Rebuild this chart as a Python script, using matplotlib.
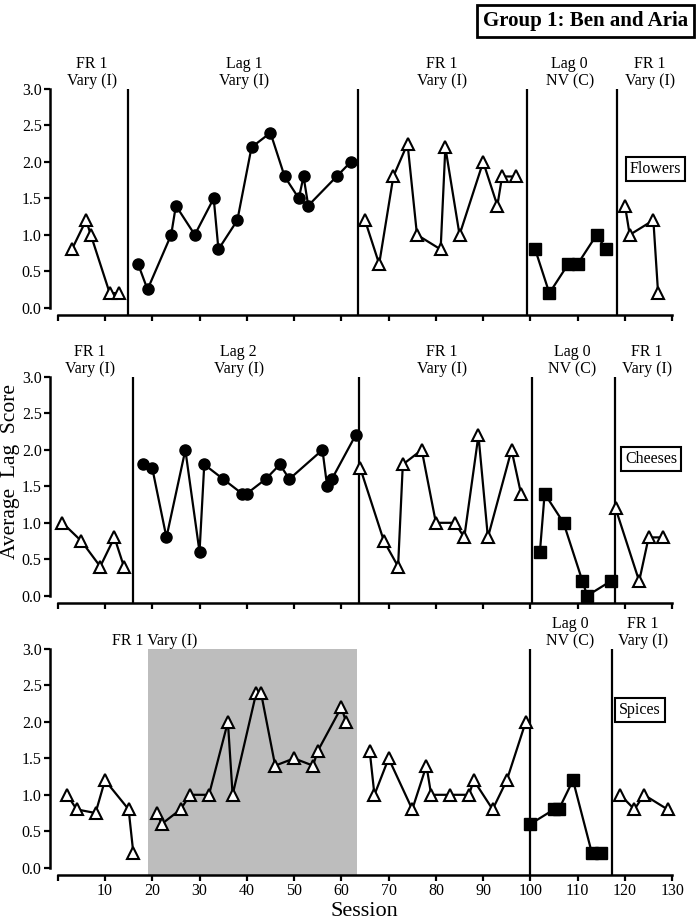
import matplotlib
matplotlib.use('Agg')
import matplotlib.pyplot as plt
import matplotlib.transforms as mtransforms

plt.rcParams['font.family'] = ['Liberation Serif', 'DejaVu Serif']

# ---- Flowers (top panel) ----
fl_fr1a_x = [3, 6, 7, 11, 13]
fl_fr1a_y = [0.8, 1.2, 1.0, 0.2, 0.2]
fl_lag1_x = [17, 19, 24, 25, 29, 33, 34, 38, 41, 45, 48, 51, 52, 53, 59, 62]
fl_lag1_y = [0.6, 0.25, 1.0, 1.4, 1.0, 1.5, 0.8, 1.2, 2.2, 2.4, 1.8, 1.5, 1.8, 1.4, 1.8, 2.0]
fl_fr1b_x = [65, 68, 71, 74, 76, 81, 82, 85, 90, 93, 94, 97]
fl_fr1b_y = [1.2, 0.6, 1.8, 2.25, 1.0, 0.8, 2.2, 1.0, 2.0, 1.4, 1.8, 1.8]
fl_lag0_x = [101, 104, 108, 110, 114, 116]
fl_lag0_y = [0.8, 0.2, 0.6, 0.6, 1.0, 0.8]
fl_fr1c_x = [120, 121, 126, 127]
fl_fr1c_y = [1.4, 1.0, 1.2, 0.2]
fl_phase_changes = [14.9, 63.6, 99.3, 118.4]

# ---- Cheeses (middle panel) ----
ch_fr1a_x = [1, 5, 9, 12, 14]
ch_fr1a_y = [1.0, 0.75, 0.4, 0.8, 0.4]
ch_lag2_x = [18, 20, 23, 27, 30, 31, 35, 39, 40, 44, 47, 49, 56, 57, 58, 63]
ch_lag2_y = [1.8, 1.75, 0.8, 2.0, 0.6, 1.8, 1.6, 1.4, 1.4, 1.6, 1.8, 1.6, 2.0, 1.5, 1.6, 2.2]
ch_fr1b_x = [64, 69, 72, 73, 77, 80, 84, 86, 89, 91, 96, 98]
ch_fr1b_y = [1.75, 0.75, 0.4, 1.8, 2.0, 1.0, 1.0, 0.8, 2.2, 0.8, 2.0, 1.4]
ch_lag0_x = [102, 103, 107, 111, 112, 117]
ch_lag0_y = [0.6, 1.4, 1.0, 0.2, 0.0, 0.2]
ch_fr1c_x = [118, 123, 125, 128]
ch_fr1c_y = [1.2, 0.2, 0.8, 0.8]
ch_phase_changes = [15.9, 63.7, 100.3, 117.9]

# ---- Spices (bottom panel) ----
sp_fr1a_x = [2, 4, 8, 10, 15, 16]
sp_fr1a_y = [1.0, 0.8, 0.75, 1.2, 0.8, 0.2]
sp_fr1b_x = [21, 22, 26, 28, 32, 36, 37, 42, 43, 46, 50, 54, 55, 60, 61]
sp_fr1b_y = [0.75, 0.6, 0.8, 1.0, 1.0, 2.0, 1.0, 2.4, 2.4, 1.4, 1.5, 1.4, 1.6, 2.2, 2.0]
sp_fr1c_x = [66, 67, 70, 75, 78, 79, 83, 87, 88, 92, 95, 99]
sp_fr1c_y = [1.6, 1.0, 1.5, 0.8, 1.4, 1.0, 1.0, 1.0, 1.2, 0.8, 1.2, 2.0]
sp_lag0_x = [100, 105, 106, 109, 113, 115]
sp_lag0_y = [0.6, 0.8, 0.8, 1.2, 0.2, 0.2]
sp_fr1d_x = [119, 122, 124, 129]
sp_fr1d_y = [1.0, 0.8, 1.0, 0.8]
sp_phase_changes = [99.8, 117.2]
sp_shaded = (19, 63.3)

x_ticks = list(range(0, 131, 10))
y_ticks = [0.0, 0.5, 1.0, 1.5, 2.0, 2.5, 3.0]

TRI = dict(marker='^', markerfacecolor='white', markeredgecolor='black',
           markeredgewidth=1.5, markersize=9)
CIR = dict(marker='o', markerfacecolor='black', markeredgecolor='black', markersize=8)
SQR = dict(marker='s', markerfacecolor='black', markeredgecolor='black', markersize=8)


def style_axis(ax, show_labels):
    ax.set_xlim(-1.63, 131)
    ax.set_ylim(-0.1, 3.0)
    for s in ['top', 'right']:
        ax.spines[s].set_visible(False)
    ax.spines['left'].set_bounds(0, 3)
    ax.spines['bottom'].set_bounds(0, 130)
    ax.spines['left'].set_linewidth(1.8)
    ax.spines['bottom'].set_linewidth(1.8)
    ax.set_yticks(y_ticks)
    ax.set_yticklabels(['%.1f' % v for v in y_ticks], fontsize=11.5)
    ax.set_xticks(x_ticks)
    if show_labels:
        ax.set_xticklabels([''] + [str(v) for v in x_ticks[1:]], fontsize=11.5)
    else:
        ax.set_xticklabels([])
    ax.tick_params(axis='both', direction='out', length=4, width=1.6, pad=2)


def series(ax, x, y, style):
    ax.plot(x, y, color='black', linewidth=1.6, zorder=3, **style)


def phase_label(ax, x, text):
    trans = mtransforms.blended_transform_factory(ax.transData, ax.transAxes)
    ax.text(x, 1.0, text, transform=trans, ha='center', va='bottom',
            fontsize=11.5, linespacing=1.12)


def tag(ax, x, y, text):
    ax.text(x, y, text, ha='center', va='center', fontsize=11.5,
            bbox=dict(boxstyle='square,pad=0.25', facecolor='white',
                      edgecolor='black', linewidth=1.5))


fig = plt.figure(figsize=(7.0, 9.24), dpi=100)
left, width, height = 50 / 700, 627 / 700, 226 / 924
ax1 = fig.add_axes([left, 1 - 315 / 924, width, height])
ax2 = fig.add_axes([left, 1 - 603 / 924, width, height])
ax3 = fig.add_axes([left, 1 - 875 / 924, width, height])

# Flowers
for xc in fl_phase_changes:
    ax1.axvline(xc, color='black', linewidth=1.6)
series(ax1, fl_fr1a_x, fl_fr1a_y, TRI)
series(ax1, fl_lag1_x, fl_lag1_y, CIR)
series(ax1, fl_fr1b_x, fl_fr1b_y, TRI)
series(ax1, fl_lag0_x, fl_lag0_y, SQR)
series(ax1, fl_fr1c_x, fl_fr1c_y, TRI)
style_axis(ax1, False)
phase_label(ax1, 7.3, 'FR 1\nVary (I)')
phase_label(ax1, 39.5, 'Lag 1\nVary (I)')
phase_label(ax1, 81.3, 'FR 1\nVary (I)')
phase_label(ax1, 108.3, 'Lag 0\nNV (C)')
phase_label(ax1, 125.3, 'FR 1\nVary (I)')
tag(ax1, 126.4, 1.9, 'Flowers')

# Cheeses
for xc in ch_phase_changes:
    ax2.axvline(xc, color='black', linewidth=1.6)
series(ax2, ch_fr1a_x, ch_fr1a_y, TRI)
series(ax2, ch_lag2_x, ch_lag2_y, CIR)
series(ax2, ch_fr1b_x, ch_fr1b_y, TRI)
series(ax2, ch_lag0_x, ch_lag0_y, SQR)
series(ax2, ch_fr1c_x, ch_fr1c_y, TRI)
style_axis(ax2, False)
phase_label(ax2, 6.8, 'FR 1\nVary (I)')
phase_label(ax2, 38.3, 'Lag 2\nVary (I)')
phase_label(ax2, 81.3, 'FR 1\nVary (I)')
phase_label(ax2, 108.8, 'Lag 0\nNV (C)')
phase_label(ax2, 124.7, 'FR 1\nVary (I)')
tag(ax2, 125.5, 1.87, 'Cheeses')

# Spices
ax3.axvspan(sp_shaded[0], sp_shaded[1], color='#bdbdbd', zorder=0, linewidth=0)
for xc in sp_phase_changes:
    ax3.axvline(xc, color='black', linewidth=1.6)
series(ax3, sp_fr1a_x, sp_fr1a_y, TRI)
series(ax3, sp_fr1b_x, sp_fr1b_y, TRI)
series(ax3, sp_fr1c_x, sp_fr1c_y, TRI)
series(ax3, sp_lag0_x, sp_lag0_y, SQR)
series(ax3, sp_fr1d_x, sp_fr1d_y, TRI)
style_axis(ax3, True)
phase_label(ax3, 20.6, 'FR 1 Vary (I)')
phase_label(ax3, 108.4, 'Lag 0\nNV (C)')
phase_label(ax3, 123.8, 'FR 1\nVary (I)')
tag(ax3, 123.2, 2.17, 'Spices')

fig.text(0.015, 0.49, 'Average  Lag  Score', rotation=90, ha='center',
         va='center', fontsize=15.5)
fig.text(0.521, 0.013, 'Session', ha='center', va='center', fontsize=16)
fig.text(0.8364, 0.9773, 'Group 1: Ben and Aria', ha='center', va='center',
         fontsize=15, fontweight='bold',
         bbox=dict(boxstyle='square,pad=0.3', facecolor='white',
                   edgecolor='black', linewidth=2))

fig.savefig('out.png', dpi=100)
